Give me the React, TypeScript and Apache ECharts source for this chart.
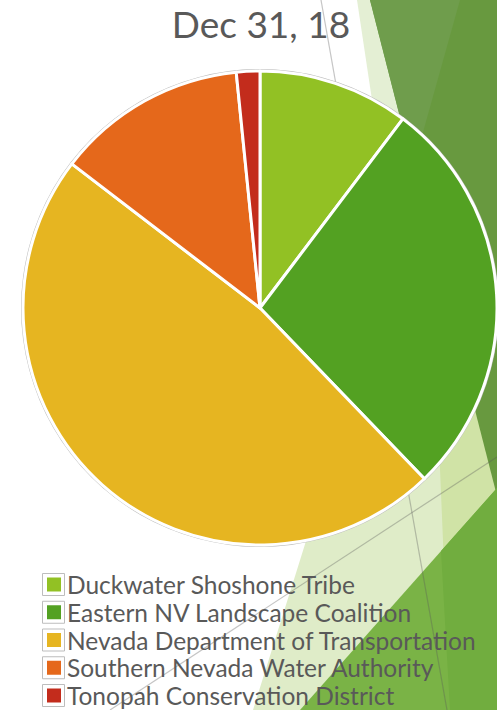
import React, { useEffect, useRef } from "react";
import * as echarts from "echarts";

const titleText = "Dec 31, 18";
const categories = [
  "Duckwater Shoshone Tribe",
  "Eastern NV Landscape Coalition",
  "Nevada Department of Transportation",
  "Southern Nevada Water Authority",
  "Tonopah Conservation District",
];
const values = [10.3, 27.5, 47.6, 13.0, 1.6];
const colors = ["#92C124", "#53A122", "#E6B521", "#E5681B", "#C32C1C"];

export default function App() {
  const ref = useRef<HTMLDivElement>(null);
  useEffect(() => {
    if (!ref.current) return;
    const chart = echarts.init(ref.current, undefined, { renderer: "svg" });
    const poly = (points: number[][], fill: string) => ({
      type: "polygon",
      silent: true,
      shape: { points },
      style: { fill },
    });
    const line = (x1: number, y1: number, x2: number, y2: number) => ({
      type: "line",
      silent: true,
      shape: { x1, y1, x2, y2 },
      style: { stroke: "rgba(90,90,90,0.35)", lineWidth: 1.2 },
    });
    const legendFont = {
      fontFamily: "Lato",
      fontSize: 24.5,
      color: "#595959",
    };
    chart.setOption({
      animation: false,
      backgroundColor: "#ffffff",
      title: {
        text: titleText,
        left: 261,
        top: 5,
        padding: 0,
        textAlign: "center",
        textStyle: {
          fontFamily: "Lato",
          fontSize: 37,
          fontWeight: "normal",
          color: "#595959",
        },
      },
      graphic: [
        poly([[253, 710], [344, 420], [497, 380], [497, 710]], "#DFECC8"),
        poly([[357, 0], [370, 0], [447, 300], [402, 300]], "#E4EFD4"),
        poly([[433, 300], [497, 300], [497, 710], [450, 710]], "#D0E3A6"),
        poly([[370, 0], [497, 0], [497, 496]], "#68993F"),
        poly([[370, 0], [460, 0], [413, 168]], "#6F9D4C"),
        poly([[300, 710], [497, 488], [497, 710]], "#7AB346"),
        poly([[441, 551], [497, 488], [497, 710], [450, 710]], "#71AD3F"),
        line(321, 0, 447, 710),
        line(110, 710, 497, 457),
      ],
      legend: [
        {
          orient: "vertical",
          left: 42,
          top: 572,
          height: 200,
          padding: 0,
          itemWidth: 22,
          itemHeight: 22,
          itemGap: 2.75,
          icon: "rect",
          data: categories,
          selectedMode: false,
          formatter: () => "\u00a0",
          itemStyle: { color: "#ffffff", borderColor: "#BDBDBD", borderWidth: 1 },
          textStyle: legendFont,
        },
        {
          orient: "vertical",
          left: 45,
          top: 572,
          height: 200,
          padding: 0,
          itemWidth: 16,
          itemHeight: 16,
          itemGap: 2.75,
          icon: "rect",
          data: categories,
          selectedMode: false,
          textStyle: { ...legendFont, padding: [0, 0, 0, 0] },
        },
      ],
      series: [
        {
          type: "pie",
          name: "outline",
          z: 1,
          silent: true,
          center: [260, 308],
          radius: 239,
          label: { show: false },
          labelLine: { show: false },
          itemStyle: { color: "#BDBDBD" },
          emphasis: { disabled: true },
          data: [{ value: 1, name: "outline" }],
        },
        {
          type: "pie",
          name: "Share",
          z: 2,
          center: [260, 308],
          radius: 237,
          startAngle: 90,
          clockwise: true,
          label: { show: false },
          labelLine: { show: false },
          emphasis: { disabled: true },
          itemStyle: { borderColor: "#ffffff", borderWidth: 3 },
          data: categories.map((name, i) => ({
            name,
            value: values[i],
            itemStyle: { color: colors[i] },
          })),
        },
      ],
    });
    return () => chart.dispose();
  }, []);
  return (
    <div
      ref={ref}
      style={{ position: "fixed", left: 0, top: 0, width: 497, height: 710 }}
    />
  );
}
